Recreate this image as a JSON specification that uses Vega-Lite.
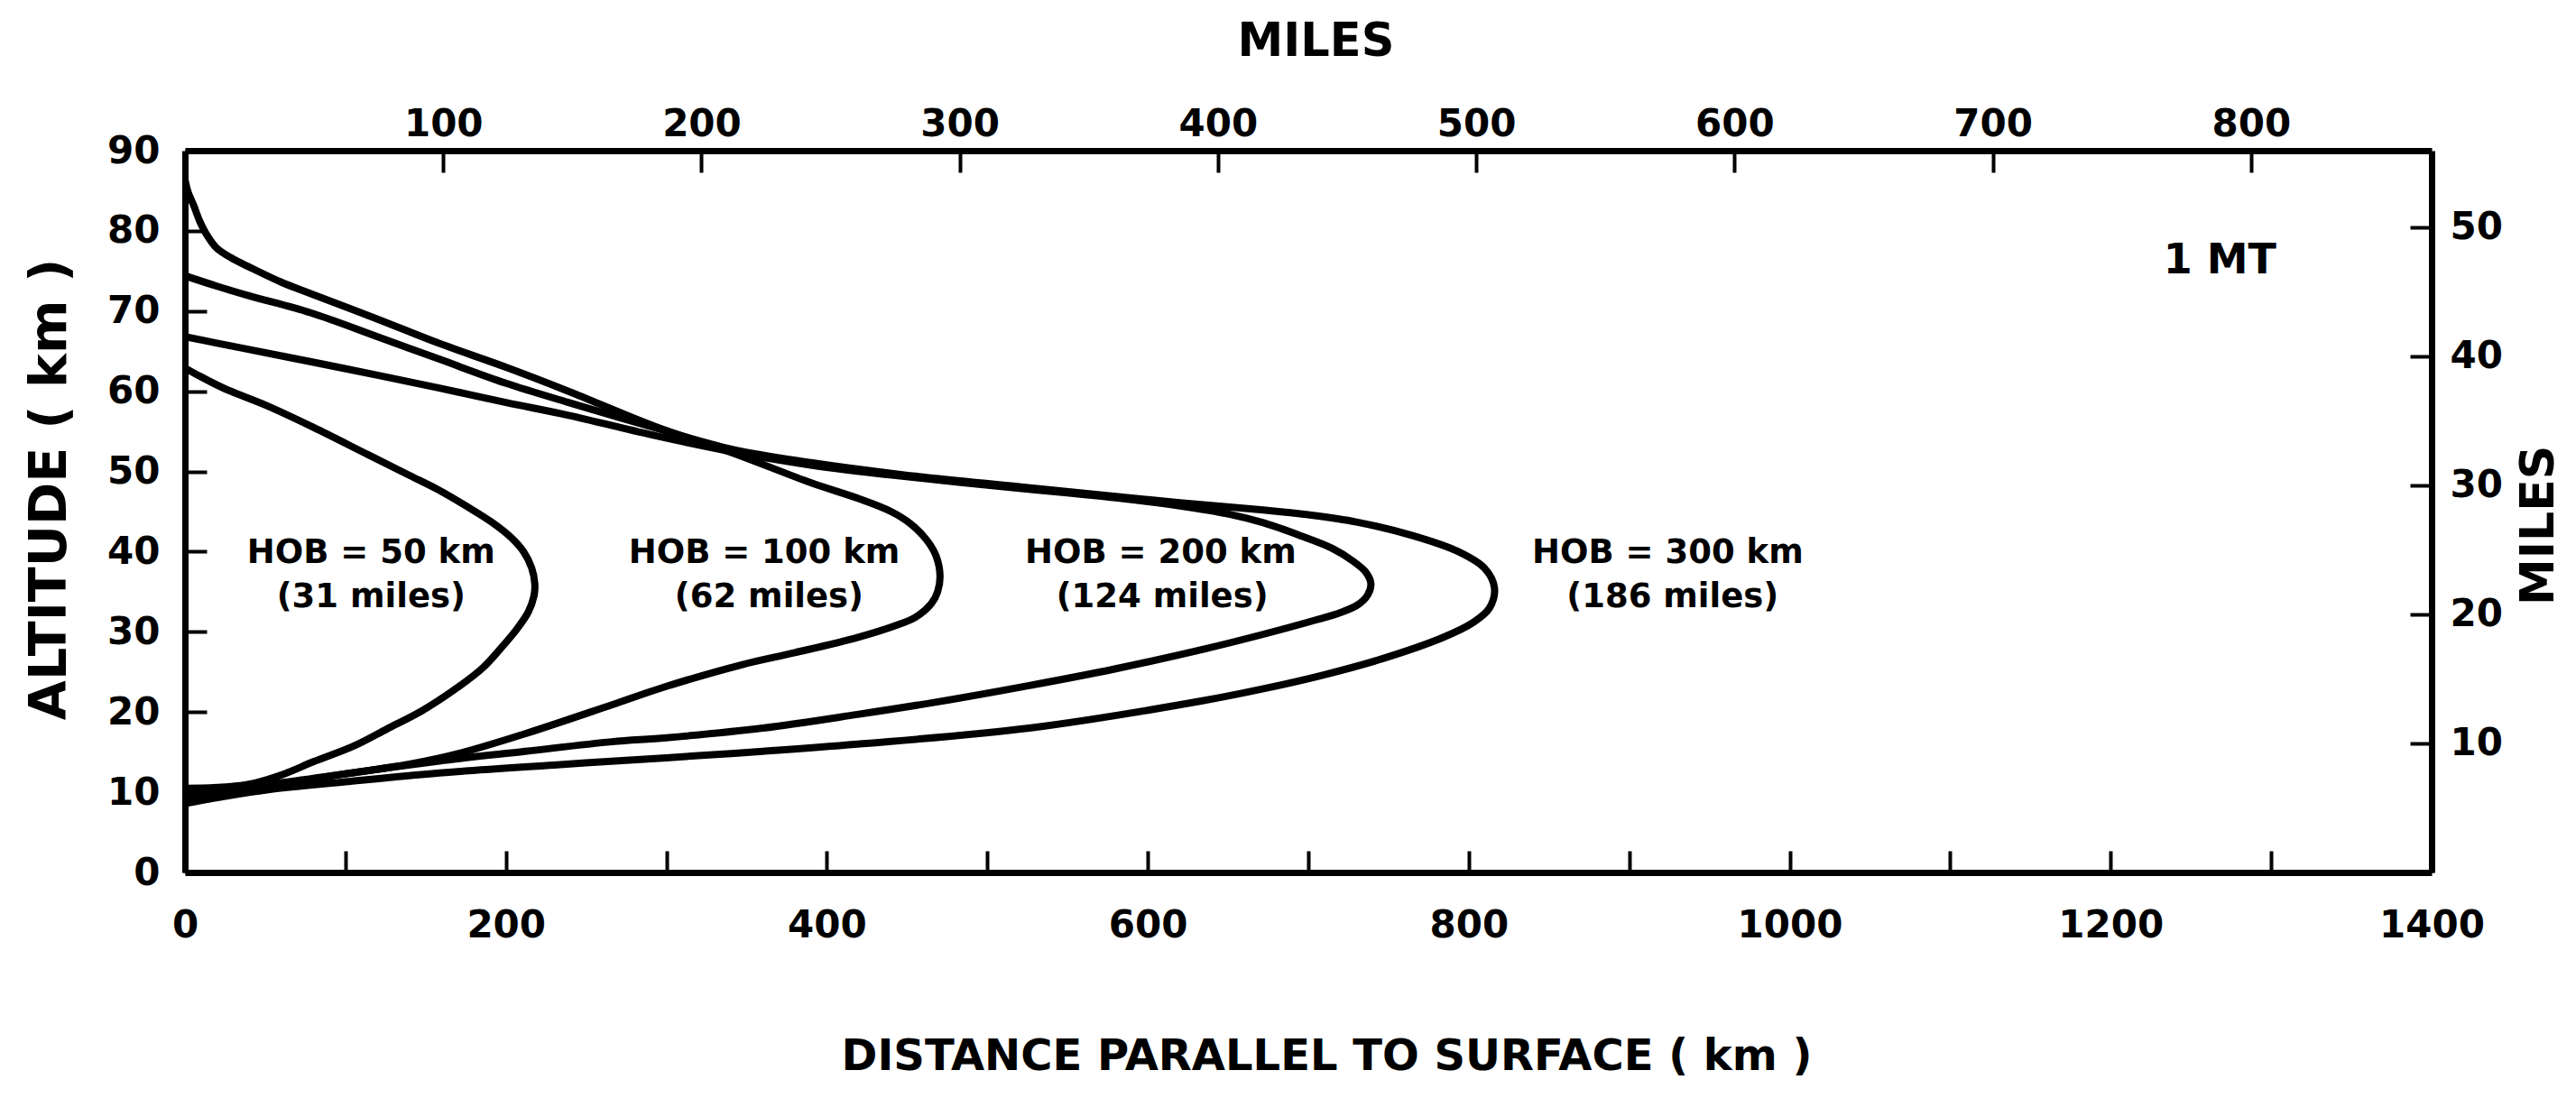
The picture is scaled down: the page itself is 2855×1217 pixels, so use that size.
{
  "$schema": "https://vega.github.io/schema/vega-lite/v6.json",
  "width": 2490,
  "height": 800,
  "autosize": {"type": "none"},
  "padding": {"left": 205, "top": 167, "right": 160, "bottom": 250},
  "background": "white",
  "config": {
    "view": {"stroke": null},
    "font": "DejaVu Sans",
    "axis": {
      "grid": false,
      "domainColor": "black",
      "domainWidth": 7,
      "tickColor": "black",
      "tickWidth": 4,
      "tickSize": -24,
      "labelColor": "black",
      "labelFontSize": 42,
      "labelFontWeight": "bold",
      "labelOverlap": false,
      "labelFlush": false,
      "titleColor": "black",
      "titleFontWeight": "bold"
    }
  },
  "datasets": {
    "curves": [
      {"hob": "50 km", "km": 0, "alt": 62.9},
      {"hob": "50 km", "km": 10, "alt": 61.8},
      {"hob": "50 km", "km": 25, "alt": 60.3},
      {"hob": "50 km", "km": 51, "alt": 58.2},
      {"hob": "50 km", "km": 80, "alt": 55.5},
      {"hob": "50 km", "km": 113, "alt": 52.2},
      {"hob": "50 km", "km": 140, "alt": 49.5},
      {"hob": "50 km", "km": 158, "alt": 47.7},
      {"hob": "50 km", "km": 176, "alt": 45.6},
      {"hob": "50 km", "km": 191, "alt": 43.7},
      {"hob": "50 km", "km": 203, "alt": 41.8},
      {"hob": "50 km", "km": 211, "alt": 40.0},
      {"hob": "50 km", "km": 216, "alt": 38.0},
      {"hob": "50 km", "km": 218, "alt": 36.0},
      {"hob": "50 km", "km": 217.5, "alt": 34.5},
      {"hob": "50 km", "km": 214, "alt": 32.5},
      {"hob": "50 km", "km": 207, "alt": 30.4},
      {"hob": "50 km", "km": 197, "alt": 28.0},
      {"hob": "50 km", "km": 185.5, "alt": 25.5},
      {"hob": "50 km", "km": 168, "alt": 22.8},
      {"hob": "50 km", "km": 148, "alt": 20.2},
      {"hob": "50 km", "km": 126, "alt": 17.9},
      {"hob": "50 km", "km": 104.5, "alt": 15.7},
      {"hob": "50 km", "km": 80, "alt": 13.8},
      {"hob": "50 km", "km": 62, "alt": 12.3},
      {"hob": "50 km", "km": 40, "alt": 11.0},
      {"hob": "50 km", "km": 20, "alt": 10.6},
      {"hob": "50 km", "km": 0, "alt": 10.5},

      {"hob": "100 km", "km": 0, "alt": 86.4},
      {"hob": "100 km", "km": 2, "alt": 84.8},
      {"hob": "100 km", "km": 5.4, "alt": 83.2},
      {"hob": "100 km", "km": 9, "alt": 81.3},
      {"hob": "100 km", "km": 13.3, "alt": 79.6},
      {"hob": "100 km", "km": 20, "alt": 77.8},
      {"hob": "100 km", "km": 30, "alt": 76.5},
      {"hob": "100 km", "km": 40, "alt": 75.5},
      {"hob": "100 km", "km": 60, "alt": 73.6},
      {"hob": "100 km", "km": 78, "alt": 72.2},
      {"hob": "100 km", "km": 120, "alt": 69.0},
      {"hob": "100 km", "km": 158, "alt": 66.0},
      {"hob": "100 km", "km": 200, "alt": 63.0},
      {"hob": "100 km", "km": 239, "alt": 60.0},
      {"hob": "100 km", "km": 293, "alt": 55.6},
      {"hob": "100 km", "km": 340, "alt": 52.4},
      {"hob": "100 km", "km": 390, "alt": 48.6},
      {"hob": "100 km", "km": 420, "alt": 46.6},
      {"hob": "100 km", "km": 440, "alt": 45.0},
      {"hob": "100 km", "km": 452, "alt": 43.5},
      {"hob": "100 km", "km": 462, "alt": 41.5},
      {"hob": "100 km", "km": 468, "alt": 39.5},
      {"hob": "100 km", "km": 470.5, "alt": 37.0},
      {"hob": "100 km", "km": 469, "alt": 35.0},
      {"hob": "100 km", "km": 465, "alt": 33.5},
      {"hob": "100 km", "km": 455, "alt": 31.8},
      {"hob": "100 km", "km": 443, "alt": 30.8},
      {"hob": "100 km", "km": 419, "alt": 29.3},
      {"hob": "100 km", "km": 380, "alt": 27.4},
      {"hob": "100 km", "km": 347, "alt": 25.9},
      {"hob": "100 km", "km": 300, "alt": 23.2},
      {"hob": "100 km", "km": 266, "alt": 20.9},
      {"hob": "100 km", "km": 212, "alt": 17.3},
      {"hob": "100 km", "km": 170, "alt": 14.8},
      {"hob": "100 km", "km": 140, "alt": 13.5},
      {"hob": "100 km", "km": 100, "alt": 12.3},
      {"hob": "100 km", "km": 60, "alt": 11.2},
      {"hob": "100 km", "km": 30, "alt": 10.5},
      {"hob": "100 km", "km": 0, "alt": 9.9},

      {"hob": "200 km", "km": 0, "alt": 66.8},
      {"hob": "200 km", "km": 20, "alt": 66.0},
      {"hob": "200 km", "km": 40, "alt": 65.2},
      {"hob": "200 km", "km": 78, "alt": 63.7},
      {"hob": "200 km", "km": 120, "alt": 62.0},
      {"hob": "200 km", "km": 158.5, "alt": 60.4},
      {"hob": "200 km", "km": 200, "alt": 58.6},
      {"hob": "200 km", "km": 239, "alt": 57.0},
      {"hob": "200 km", "km": 290, "alt": 54.6},
      {"hob": "200 km", "km": 340, "alt": 52.5},
      {"hob": "200 km", "km": 390, "alt": 50.8},
      {"hob": "200 km", "km": 447, "alt": 49.4},
      {"hob": "200 km", "km": 520, "alt": 47.9},
      {"hob": "200 km", "km": 580, "alt": 46.7},
      {"hob": "200 km", "km": 620, "alt": 45.7},
      {"hob": "200 km", "km": 650, "alt": 44.7},
      {"hob": "200 km", "km": 672, "alt": 43.6},
      {"hob": "200 km", "km": 695, "alt": 42.0},
      {"hob": "200 km", "km": 715, "alt": 40.4},
      {"hob": "200 km", "km": 728, "alt": 38.8},
      {"hob": "200 km", "km": 736, "alt": 37.4},
      {"hob": "200 km", "km": 739, "alt": 36.0},
      {"hob": "200 km", "km": 737, "alt": 34.6},
      {"hob": "200 km", "km": 731, "alt": 33.4},
      {"hob": "200 km", "km": 720, "alt": 32.4},
      {"hob": "200 km", "km": 705, "alt": 31.5},
      {"hob": "200 km", "km": 672, "alt": 29.7},
      {"hob": "200 km", "km": 634, "alt": 27.8},
      {"hob": "200 km", "km": 580, "alt": 25.4},
      {"hob": "200 km", "km": 526, "alt": 23.3},
      {"hob": "200 km", "km": 470, "alt": 21.3},
      {"hob": "200 km", "km": 419, "alt": 19.7},
      {"hob": "200 km", "km": 360, "alt": 18.0},
      {"hob": "200 km", "km": 300, "alt": 16.8},
      {"hob": "200 km", "km": 266, "alt": 16.3},
      {"hob": "200 km", "km": 212, "alt": 15.1},
      {"hob": "200 km", "km": 158.5, "alt": 13.9},
      {"hob": "200 km", "km": 100, "alt": 12.3},
      {"hob": "200 km", "km": 60, "alt": 11.0},
      {"hob": "200 km", "km": 30, "alt": 10.2},
      {"hob": "200 km", "km": 0, "alt": 9.3},

      {"hob": "300 km", "km": 0, "alt": 74.4},
      {"hob": "300 km", "km": 20, "alt": 73.1},
      {"hob": "300 km", "km": 40, "alt": 71.9},
      {"hob": "300 km", "km": 78, "alt": 69.8},
      {"hob": "300 km", "km": 120, "alt": 66.8},
      {"hob": "300 km", "km": 158.5, "alt": 64.0},
      {"hob": "300 km", "km": 200, "alt": 61.0},
      {"hob": "300 km", "km": 239, "alt": 58.6},
      {"hob": "300 km", "km": 290, "alt": 55.6},
      {"hob": "300 km", "km": 340, "alt": 52.8},
      {"hob": "300 km", "km": 390, "alt": 51.1},
      {"hob": "300 km", "km": 447, "alt": 49.6},
      {"hob": "300 km", "km": 520, "alt": 48.1},
      {"hob": "300 km", "km": 580, "alt": 46.9},
      {"hob": "300 km", "km": 620, "alt": 46.1},
      {"hob": "300 km", "km": 672, "alt": 45.2},
      {"hob": "300 km", "km": 700, "alt": 44.6},
      {"hob": "300 km", "km": 730, "alt": 43.7},
      {"hob": "300 km", "km": 765, "alt": 42.0},
      {"hob": "300 km", "km": 793.5, "alt": 40.0},
      {"hob": "300 km", "km": 810, "alt": 37.9},
      {"hob": "300 km", "km": 816, "alt": 35.5},
      {"hob": "300 km", "km": 813, "alt": 33.0},
      {"hob": "300 km", "km": 803, "alt": 31.2},
      {"hob": "300 km", "km": 784, "alt": 29.3},
      {"hob": "300 km", "km": 747, "alt": 26.7},
      {"hob": "300 km", "km": 709, "alt": 24.6},
      {"hob": "300 km", "km": 672, "alt": 22.9},
      {"hob": "300 km", "km": 634, "alt": 21.4},
      {"hob": "300 km", "km": 526, "alt": 18.0},
      {"hob": "300 km", "km": 419, "alt": 16.0},
      {"hob": "300 km", "km": 360, "alt": 15.1},
      {"hob": "300 km", "km": 300, "alt": 14.3},
      {"hob": "300 km", "km": 230, "alt": 13.4},
      {"hob": "300 km", "km": 158.5, "alt": 12.4},
      {"hob": "300 km", "km": 100, "alt": 11.3},
      {"hob": "300 km", "km": 51, "alt": 10.3},
      {"hob": "300 km", "km": 25, "alt": 9.5},
      {"hob": "300 km", "km": 0, "alt": 8.6}
    ],
    "labels": [
      {"text": "HOB = 50 km", "km": 116, "alt": 39.8},
      {"text": "(31 miles)", "km": 116, "alt": 34.3},
      {"text": "HOB = 100 km", "km": 361, "alt": 39.8},
      {"text": "(62 miles)", "km": 364, "alt": 34.3},
      {"text": "HOB = 200 km", "km": 608, "alt": 39.8},
      {"text": "(124 miles)", "km": 609, "alt": 34.3},
      {"text": "HOB = 300 km", "km": 924, "alt": 39.8},
      {"text": "(186 miles)", "km": 927, "alt": 34.3}
    ],
    "note": [
      {"text": "1 MT", "km": 1268, "alt": 76.3}
    ],
    "miles": [
      {"mx": 0, "my": 0},
      {"mx": 869.92, "my": 55.92}
    ]
  },
  "layer": [
    {
      "layer": [
        {
          "data": {"name": "curves"},
          "mark": {"type": "line", "color": "black", "strokeWidth": 8, "strokeJoin": "round", "strokeCap": "round", "interpolate": "catmull-rom", "clip": true},
          "encoding": {
            "x": {
              "field": "km",
              "type": "quantitative",
              "scale": {"domain": [0, 1400], "nice": false},
              "axis": {
                "orient": "bottom",
                "values": [0, 100, 200, 300, 400, 500, 600, 700, 800, 900, 1000, 1100, 1200, 1300, 1400],
                "labelExpr": "datum.value % 200 == 0 ? datum.label : ''",
                "format": "d",
                "labelPadding": 62,
                "title": "DISTANCE PARALLEL TO SURFACE ( km )",
                "titleFontSize": 48,
                "titleX": 1265,
                "titleY": 204,
                "titleBaseline": "middle"
              }
            },
            "y": {
              "field": "alt",
              "type": "quantitative",
              "scale": {"domain": [0, 90], "nice": false},
              "axis": {
                "orient": "left",
                "values": [0, 10, 20, 30, 40, 50, 60, 70, 80, 90],
                "labelPadding": 52,
                "title": "ALTITUDE ( km )",
                "titleFontSize": 57,
                "titleAngle": -90,
                "titleX": -150,
                "titleY": 375,
                "titleBaseline": "middle",
                "titleAlign": "center"
              }
            },
            "detail": {"field": "hob"},
            "order": {"value": null}
          }
        },
        {
          "data": {"name": "labels"},
          "mark": {"type": "text", "color": "black", "fontSize": 37, "fontWeight": "bold", "align": "center", "baseline": "middle"},
          "encoding": {
            "x": {"field": "km", "type": "quantitative"},
            "y": {"field": "alt", "type": "quantitative"},
            "text": {"field": "text"}
          }
        },
        {
          "data": {"name": "note"},
          "mark": {"type": "text", "color": "black", "fontSize": 46, "fontWeight": "bold", "align": "center", "baseline": "middle"},
          "encoding": {
            "x": {"field": "km", "type": "quantitative"},
            "y": {"field": "alt", "type": "quantitative"},
            "text": {"field": "text"}
          }
        }
      ]
    },
    {
      "data": {"name": "miles"},
      "mark": {"type": "point", "opacity": 0},
      "encoding": {
        "x": {
          "field": "mx",
          "type": "quantitative",
          "scale": {"domain": [0, 869.92], "nice": false},
          "axis": {
            "orient": "top",
            "values": [100, 200, 300, 400, 500, 600, 700, 800],
            "labelPadding": 32,
            "title": "MILES",
            "titleFontSize": 51,
            "titleX": 1253,
            "titleY": -121,
            "titleBaseline": "middle"
          }
        },
        "y": {
          "field": "my",
          "type": "quantitative",
          "scale": {"domain": [0, 55.92], "nice": false},
          "axis": {
            "orient": "right",
            "values": [10, 20, 30, 40, 50],
            "labelPadding": 44,
            "title": "MILES",
            "titleFontSize": 52,
            "titleAngle": -90,
            "titleX": 118,
            "titleY": 415,
            "titleBaseline": "middle",
            "titleAlign": "center"
          }
        }
      }
    }
  ],
  "resolve": {
    "scale": {"x": "independent", "y": "independent"},
    "axis": {"x": "independent", "y": "independent"}
  }
}
